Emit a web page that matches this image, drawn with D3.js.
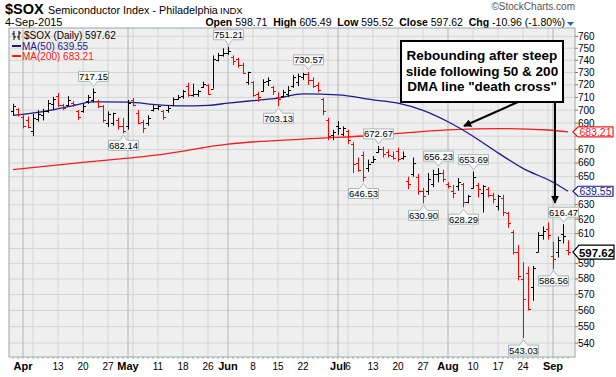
<!DOCTYPE html>
<html>
<head>
<meta charset="utf-8">
<script src="https://cdn.jsdelivr.net/npm/d3@7"></script>
<style>
body { margin: 0; background: #fff; }
svg { display: block; font-family: "Liberation Sans", Arial, sans-serif; }
</style>
</head>
<body>
<svg id="chart" width="616" height="377"></svg>
<script>
// trading days shown on the chart
const days = ("Mar30 Mar31 " +
  "Apr1 Apr2 Apr6 Apr7 Apr8 Apr9 Apr10 Apr13 Apr14 Apr15 Apr16 Apr17 Apr20 Apr21 Apr22 Apr23 Apr24 Apr27 Apr28 Apr29 Apr30 " +
  "May1 May4 May5 May6 May7 May8 May11 May12 May13 May14 May15 May18 May19 May20 May21 May22 May26 May27 May28 May29 " +
  "Jun1 Jun2 Jun3 Jun4 Jun5 Jun8 Jun9 Jun10 Jun11 Jun12 Jun15 Jun16 Jun17 Jun18 Jun19 Jun22 Jun23 Jun24 Jun25 Jun26 Jun29 Jun30 " +
  "Jul1 Jul2 Jul6 Jul7 Jul8 Jul9 Jul10 Jul13 Jul14 Jul15 Jul16 Jul17 Jul20 Jul21 Jul22 Jul23 Jul24 Jul27 Jul28 Jul29 Jul30 Jul31 " +
  "Aug3 Aug4 Aug5 Aug6 Aug7 Aug10 Aug11 Aug12 Aug13 Aug14 Aug17 Aug18 Aug19 Aug20 Aug21 Aug24 Aug25 Aug26 Aug27 Aug28 Aug31 " +
  "Sep1 Sep2 Sep3 Sep4").split(" ");

const opens = [699,701,695,692,684,693,696,699,705,711,704,704,706,699,699,707,708,707,703,690,690,692,688,
  688,708,698,691,690,700,702,699,700,704,709,711,719,712,713,718,720,717,740,744,
  746,743,741,736,722,722,713,715,723,718,710,711,713,719,722,726,729,724,720,709,692,681,
  688,682,684,674,660,666,656,661,668,670,668,665,669,664,647,652,650,640,640,645,652,653,
  645,640,643,645,632,642,644,638,641,637,629,635,624,611,598,580,584,575,598,609,613,
  595,598,610,598.71];
const highs = [705,701.5,696,695,697,700,701,708,710.5,713.5,705,711,707,700,705,712,717.15,708,704,699,698,694,694,
  708,709.5,700,692.5,696,704,704,700,704,710,712,716,721.7,721,716,722.5,720.5,744,746,750,
  751.21,744,742,738,730.6,723,714.5,724.5,726,719,714,716,719,728,729,729.8,730.57,726,722,709.5,694,684.8,
  691.5,687.5,685,675.5,664,668.5,662.5,665,672.67,672,670,668.5,671.4,668.5,650,664,652,642,652.6,655,656.23,655,
  646,644,649,645.5,637,653.69,645.5,644,642.5,638.5,637,637,625,612.5,602.4,591,588,588.5,611,615,617.7,
  604.5,608,616.47,605.49];
const lows = [696,695,686,686,680,691,692,698,700,702.5,700,703,702.5,692.5,698,705,706,701.5,690.5,687,688,685,682.14,
  685,703,689,682.5,688,699,700,692.5,698,703,708,709,710.5,710.5,710.5,717.6,712,717,739,743,
  744.5,736,734,729,720,710.5,706.6,714.5,719,712,703.13,710,710.5,717.6,719,724,720,717.6,714,696,677,677,
  681,680,674,652.6,653.5,646.53,653.5,660,667.5,664,664,662.5,661,662.5,641,650,637,630.9,637,642.5,646,646,
  641.5,634.5,640,628.29,631,641.5,635,624.5,635,631,626,622,614,596,579,543.03,560,566,597.5,606,606,
  586.56,594,603.4,595.52];
const closes = [703,697,688,687,694,697,699,706,709,704,702,708,705,695,703,710,714,703,692,697,697.8,688,684,
  706,704,690,686,694,702,703,695,702,709,710,715,712,713,715,721,713,741,744,746,
  748,739,736,729.5,730,712,710,722,724,715,709,714,716,726,727,729,724,719,716,699,680,683,
  686,686.5,677,659,655,650,659,663,670,667,666,664,663,665,645,660,640,636,648,652,653,648,
  643,638,646,632,636,650,641,643,637,634,636,625,617,598,582,567,561,587,609,612,609,
  593,606,608.58,597.62];

// moving averages at sample dates
const ma50Days = ["Mar30","Apr8","Apr16","Apr22","May1","May11","May18","May26","Jun1","Jun8","Jun15","Jun22",
  "Jul1","Jul13","Jul20","Jul27","Aug3","Aug10","Aug17","Aug24","Sep1","Sep4"];
const ma50 = [696.0,698.9,703.5,706.5,706.3,704.2,703.4,703.8,705.5,707.5,709.5,712.8,
  712.0,708.1,705.5,699.8,691.0,680.0,667.5,656.0,646.0,639.55];
const ma200Days = ["Mar30","Apr20","May11","Jun1","Jun22","Jul13","Aug3","Aug17","Aug31","Sep4"];
const ma200 = [655.2,660.5,666.0,674.0,677.8,680.5,684.8,685.8,684.7,683.21];

// chart labels
const gridDays = ["Apr6","Apr13","Apr20","Apr27","May4","May11","May18","May26","Jun8","Jun15","Jun22","Jun29",
  "Jul6","Jul13","Jul20","Jul27","Aug10","Aug17","Aug24","Aug31"];
const monthDays = ["Apr1","May1","Jun1","Jul1","Aug3","Sep1"];
const tickDays = ["Apr1","Apr13","Apr20","Apr27","May1","May11","May18","May26","Jun1","Jun8","Jun15","Jun22",
  "Jul1","Jul6","Jul13","Jul20","Jul27","Aug3","Aug10","Aug17","Aug24","Sep1"];
const tickLabels = ["Apr","13","20","27","May","11","18","26","Jun","8","15","22",
  "Jul","6","13","20","27","Aug","10","17","24","Sep"];
const priceTicks = d3.range(540, 761, 10);
const hiddenTicks = [600, 640, 680]; // covered by the value tags

// high / low call-outs: [day, value, above?]
const callouts = [["Apr22",717.15,1],["Apr30",682.14,0],["Jun1",751.21,1],["Jun15",703.13,0],["Jun23",730.57,1],
  ["Jul9",646.53,0],["Jul14",672.67,1],["Jul27",630.90,0],["Jul30",656.23,1],["Aug6",628.29,0],["Aug10",653.69,1],
  ["Aug24",543.03,0],["Sep1",586.56,0],["Sep3",616.47,1]];

const L = 9, R = 575, T = 28, B = 357;
const svg = d3.select("#chart");

const x = d3.scalePoint().domain(days).range([13, 568]);
const y = d3.scaleLog().domain([531.7, 767.1]).range([B, T]);

// header
svg.append("text").attr("x", 5).attr("y", 14).attr("font-size", 14.5).attr("font-weight", "bold").text("$SOX");
svg.append("text").attr("x", 48).attr("y", 14).attr("font-size", 10.8).text("Semiconductor Index - Philadelphia");
svg.append("text").attr("x", 220).attr("y", 14).attr("font-size", 9.5).text("INDX");
svg.append("text").attr("x", 575).attr("y", 10).attr("font-size", 10).attr("fill", "#555")
  .attr("text-anchor", "end").text("©StockCharts.com");
svg.append("text").attr("x", 5).attr("y", 26).attr("font-size", 11).text("4-Sep-2015");

const stats = svg.append("text").attr("x", 565).attr("y", 26).attr("font-size", 10.5).attr("text-anchor", "end");
[["Open", " 598.71  "], ["High", " 605.49  "], ["Low", " 595.52  "], ["Close", " 597.62  "], ["Chg", " -10.96 (-1.80%)"]]
  .forEach(([k, v]) => {
    stats.append("tspan").attr("font-weight", "bold").text(k);
    stats.append("tspan").attr("xml:space", "preserve").text(v);
  });
svg.append("path").attr("d", "M567,22 L574,22 L570.5,26 Z").attr("fill", "#1f5fd0");

// plot background and grid
svg.append("rect").attr("x", L).attr("y", T).attr("width", R - L).attr("height", B - T)
  .attr("fill", "#efefef");

svg.append("g").selectAll("line").data(priceTicks).join("line")
  .attr("x1", L).attr("x2", R)
  .attr("y1", d => y(d)).attr("y2", d => y(d))
  .attr("stroke", "#d5d5d5");

svg.append("g").selectAll("line").data(gridDays).join("line")
  .attr("x1", d => x(d)).attr("x2", d => x(d))
  .attr("y1", T).attr("y2", B)
  .attr("stroke", "#d5d5d5");

svg.append("g").selectAll("line").data(monthDays).join("line")
  .attr("x1", d => x(d)).attr("x2", d => x(d))
  .attr("y1", T).attr("y2", B)
  .attr("stroke", "#b5b5b5");

svg.append("rect").attr("x", L).attr("y", T).attr("width", R - L).attr("height", B - T)
  .attr("fill", "none").attr("stroke", "#9aaaa8");

// daily ticks under the plot
svg.append("g").selectAll("line").data(days).join("line")
  .attr("x1", d => x(d)).attr("x2", d => x(d))
  .attr("y1", B).attr("y2", B + 2)
  .attr("stroke", "#9aaaa8");

// axes labels
svg.append("g").selectAll("text").data(tickDays).join("text")
  .attr("x", d => x(d)).attr("y", 370)
  .attr("text-anchor", "middle")
  .attr("font-size", (d, i) => monthDays.includes(d) ? 11 : 10)
  .attr("font-weight", d => monthDays.includes(d) ? "bold" : "normal")
  .text((d, i) => tickLabels[i]);

svg.append("g").selectAll("line").data(priceTicks).join("line")
  .attr("x1", R).attr("x2", R + 3)
  .attr("y1", d => y(d)).attr("y2", d => y(d))
  .attr("stroke", "#777");
svg.append("g").selectAll("text").data(priceTicks.filter(d => !hiddenTicks.includes(d))).join("text")
  .attr("x", 578).attr("y", d => y(d) + 3.5)
  .attr("font-size", 10)
  .text(d => d);

// moving averages
const line = d3.line().x(d => x(d[0])).y(d => y(d[1])).curve(d3.curveMonotoneX);
svg.append("path").datum(d3.zip(ma200Days, ma200)).attr("d", line)
  .attr("fill", "none").attr("stroke", "#ff1a1a").attr("stroke-width", 1.3);
svg.append("path").datum(d3.zip(ma50Days, ma50)).attr("d", line)
  .attr("fill", "none").attr("stroke", "#1c1c8f").attr("stroke-width", 1.3);

// OHLC bars
const bars = svg.append("g").selectAll("g").data(days).join("g")
  .attr("stroke", (d, i) => i > 0 && closes[i] < closes[i - 1] ? "#ff0000" : "#000")
  .attr("stroke-width", 1);
bars.append("line")
  .attr("x1", d => x(d) + 0.5).attr("x2", d => x(d) + 0.5)
  .attr("y1", (d, i) => y(highs[i])).attr("y2", (d, i) => y(lows[i]));
bars.append("line")
  .attr("x1", d => x(d) - 2).attr("x2", d => x(d) + 0.5)
  .attr("y1", (d, i) => Math.round(y(opens[i])) + 0.5).attr("y2", (d, i) => Math.round(y(opens[i])) + 0.5);
bars.append("line")
  .attr("x1", d => x(d) + 0.5).attr("x2", d => x(d) + 3)
  .attr("y1", (d, i) => Math.round(y(closes[i])) + 0.5).attr("y2", (d, i) => Math.round(y(closes[i])) + 0.5);

// value call-outs
const co = svg.append("g").selectAll("g").data(callouts).join("g")
  .attr("transform", d => `translate(${x(d[0]) + 0.5},${y(d[1])})`);
co.append("path")
  .attr("d", d => d[2]
    ? "M-15,-17 H15 V-7 H4 L0,-2 L-4,-7 H-15 Z"
    : "M-15,17 H15 V7 H4 L0,2 L-4,7 H-15 Z")
  .attr("fill", "#fafafa").attr("stroke", "#a9bab5");
co.append("text")
  .attr("y", d => d[2] ? -8.5 : 15.5)
  .attr("text-anchor", "middle").attr("font-size", 9.5)
  .text(d => d[1].toFixed(2));

// legend
const lg = svg.append("g");
lg.append("path").attr("d", "M14,31 V40 M12,34 H14 M14,37 H16 M19,31 V40 M17,37 H19 M19,33 H21")
  .attr("stroke", "#000").attr("fill", "none");
lg.append("text").attr("x", 24).attr("y", 39).attr("font-size", 10).text("$SOX (Daily) 597.62");
lg.append("line").attr("x1", 12).attr("x2", 21).attr("y1", 46).attr("y2", 46).attr("stroke", "#1c1c8f").attr("stroke-width", 2);
lg.append("text").attr("x", 22).attr("y", 49.5).attr("font-size", 10).attr("fill", "#1c1c8f").text("MA(50) 639.55");
lg.append("line").attr("x1", 12).attr("x2", 21).attr("y1", 56).attr("y2", 56).attr("stroke", "#ff1a1a").attr("stroke-width", 2);
lg.append("text").attr("x", 22).attr("y", 59.5).attr("font-size", 10).attr("fill", "#ff1a1a").text("MA(200) 683.21");

// last value tags on the right
const tags = [[683.21, "#ff1a1a", "normal"], [639.55, "#1c1c8f", "normal"], [597.62, "#000", "bold"]];
const tg = svg.append("g").selectAll("g").data(tags).join("g")
  .attr("transform", d => `translate(573,${y(d[0])})`);
tg.append("path")
  .attr("d", d => d[2] === "bold" ? "M0,0 L6,-7 H41 V7 H6 Z" : "M0,0 L5,-5 H40 V5 H5 Z")
  .attr("fill", "#fff").attr("stroke", d => d[1]).attr("stroke-width", 1.2);
tg.append("text").attr("x", d => d[2] === "bold" ? 23.5 : 22.5).attr("y", d => d[2] === "bold" ? 4.5 : 3.8)
  .attr("text-anchor", "middle")
  .attr("font-size", d => d[2] === "bold" ? 11.5 : 10.5)
  .attr("font-weight", d => d[2])
  .attr("fill", d => d[2] === "bold" ? "#000" : d[1])
  .text(d => d[0].toFixed(2));

// annotation box and arrows
const defs = svg.append("defs");
defs.append("marker").attr("id", "ah").attr("viewBox", "0 0 10 10")
  .attr("refX", 9).attr("refY", 5).attr("markerWidth", 4).attr("markerHeight", 4)
  .attr("orient", "auto")
  .append("path").attr("d", "M0,0 L10,5 L0,10 Z").attr("fill", "#000");

svg.append("rect").attr("x", 401).attr("y", 41).attr("width", 162).attr("height", 61)
  .attr("fill", "#fff").attr("stroke", "#000").attr("stroke-width", 2);
["Rebounding after steep", "slide following 50 & 200", "DMA line \"death cross\""].forEach((t, i) => {
  svg.append("text").attr("x", 482).attr("y", 60 + i * 15.5)
    .attr("text-anchor", "middle").attr("font-size", 13.5).attr("font-weight", "bold").text(t);
});
svg.append("line").attr("x1", 518).attr("y1", 102).attr("x2", 464).attr("y2", 126)
  .attr("stroke", "#000").attr("stroke-width", 2).attr("marker-end", "url(#ah)");
svg.append("line").attr("x1", 555).attr("y1", 102).attr("x2", 555).attr("y2", 203)
  .attr("stroke", "#000").attr("stroke-width", 2).attr("marker-end", "url(#ah)");
</script>
</body>
</html>
